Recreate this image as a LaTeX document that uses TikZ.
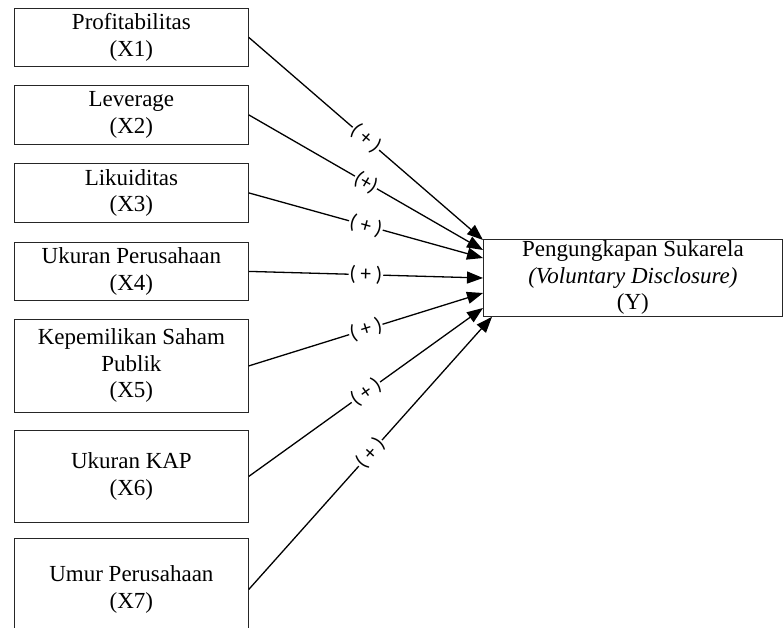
\documentclass[tikz,border=0pt]{standalone}
\usepackage{fontspec}
\setmainfont{Liberation Serif}
\newfontfamily\signfont{Carlito}
\usetikzlibrary{arrows.meta,calc,positioning}
\newlength{\VarBoxWidth}
\setlength{\VarBoxWidth}{234pt}
\tikzset{/model/var/.style={
	shape=rectangle, draw=black!85, line width=0.8pt, inner sep=0, align=center, minimum width=\VarBoxWidth, anchor=north west, font=\fontsize{23}{26.5}\selectfont
}}
\tikzset{/model/dep/.style={
	/model/var, minimum width=299pt, minimum height=77pt
}}
\tikzset{/model/path/.style={draw, line width=1.3pt, -{Triangle[length=16pt,width=12pt]}
}}
\tikzset{/model/sign/.style={sloped, fill=white, inner sep=1pt, font=\signfont\fontsize{21}{21}\selectfont
}}

\begin{document}
\begin{tikzpicture}[x=1pt, y=-1pt]
			\clip (0,0) rectangle (784,628);
			\path (14,8) node[/model/var, minimum height=58pt] (X1) {Profitabilitas\\(X1)};
			\path (14,85) node[/model/var, minimum height=59pt] (X2) {Leverage\\(X2)};
			\path (14,163) node[/model/var, minimum height=59pt] (X3) {Likuiditas\\(X3)};
			\path (14,242) node[/model/var, minimum height=58pt] (X4) {Ukuran Perusahaan\\(X4)};
			\path (14,319) node[/model/var, minimum height=93pt] (X5) {Kepemilikan Saham\\Publik\\(X5)};
			\path (14,430) node[/model/var, minimum height=92pt] (X6) {Ukuran KAP\\(X6)};
			\path (14,538) node[/model/var, minimum height=102pt] (X7) {Umur Perusahaan\\(X7)};
			\path (483,239) node[/model/dep] (Y) {Pengungkapan Sukarela\\\textit{(Voluntary Disclosure)}\\(Y)};
			\path[/model/path] (X1.east) -- node[/model/sign] {( + )} ([yshift=-1pt]Y.north west);
			\path[/model/path] (X2.east) -- node[/model/sign] {(+)} ([yshift=-11pt]Y.north west);
			\path[/model/path] (X3.east) -- node[/model/sign] {( + )} ([yshift=-19pt]Y.north west);
			\path[/model/path] (X4.east) -- node[/model/sign] {( + )} ([yshift=-39pt]Y.north west);
			\path[/model/path] (X5.east) -- node[/model/sign] {( + )} ([yshift=-54pt]Y.north west);
			\path[/model/path] (X6.east) -- node[/model/sign] {( + )} ([yshift=-69pt]Y.north west);
			\path[/model/path] (X7.east) -- node[/model/sign] {( + )} ([xshift=9pt]Y.south west);
		\end{tikzpicture}
\end{document}
